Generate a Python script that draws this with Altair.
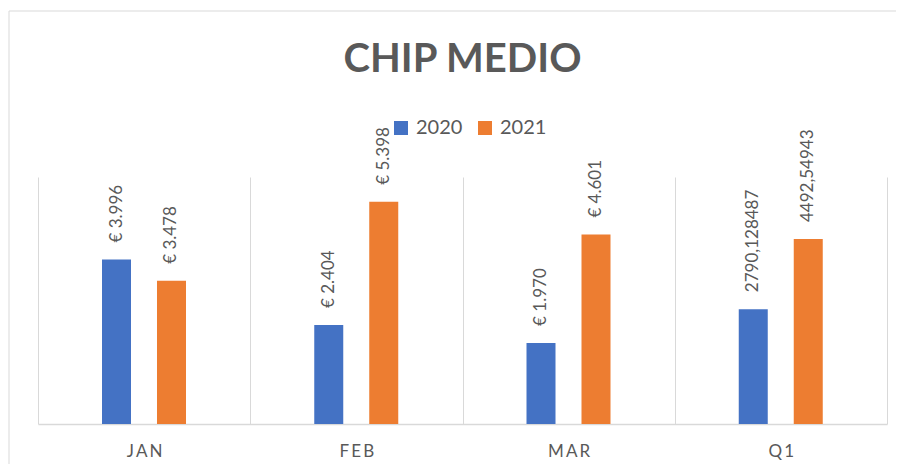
import altair as alt
import pandas as pd

months = ["JAN", "FEB", "MAR", "Q1"]
years = ["2020", "2021"]
v2020 = [3996, 2404, 1970, 2790.128487]
v2021 = [3478, 5398, 4601, 4492.54943]
labels2020 = ["€ 3.996", "€ 2.404", "€ 1.970", "2790,128487"]
labels2021 = ["€ 3.478", "€ 5.398", "€ 4.601", "4492,54943"]
title_text = "CHIP MEDIO"
colors = ["#4472C4", "#ED7D31"]

rows = []
for m, a, b, la, lb in zip(months, v2020, v2021, labels2020, labels2021):
    rows.append({"month": m, "year": "2020", "value": a, "label": la})
    rows.append({"month": m, "year": "2021", "value": b, "label": lb})
df = pd.DataFrame(rows)

W, H = 849, 247
FONT = "Lato"
GRAY = "#595959"

x_enc = alt.X(
    "month:N",
    sort=months,
    scale=alt.Scale(paddingInner=0, paddingOuter=0),
    axis=alt.Axis(
        title=None, tickBand="extent", grid=True, gridColor="#d9d9d9", gridWidth=1,
        domainColor="#d9d9d9", domainWidth=1.5, ticks=False, labelAngle=0,
        labelFont=FONT, labelFontSize=17, labelColor=GRAY, labelPadding=19,
        labelExpr="join(split(datum.label, ''), '\u2009')",
    ),
)
xoff = alt.XOffset("year:N", sort=years,
                   scale=alt.Scale(range=[64, 148], paddingInner=0.4727, paddingOuter=0))
y_enc = alt.Y("value:Q", scale=alt.Scale(domain=[0, 6000]), axis=None)

base = alt.Chart(df)

bars = base.mark_bar().encode(
    x=x_enc, xOffset=xoff, y=y_enc,
    color=alt.Color(
        "year:N",
        scale=alt.Scale(domain=years, range=colors),
        legend=alt.Legend(
            title=None, orient="none", legendX=353, legendY=-59,
            direction="horizontal", symbolType="square", symbolSize=196,
            symbolStrokeWidth=0, labelFont=FONT, labelFontSize=20,
            labelColor=GRAY, columnPadding=12, labelOffset=5, padding=0,
        ),
    ),
)

texts = base.mark_text(
    angle=270, align="left", baseline="middle", dx=17,
    font=FONT, fontSize=17, color=GRAY,
).encode(x=x_enc, xOffset=xoff, y=y_enc, text="label:N")

frame = alt.Chart(pd.DataFrame({"k": [0]})).mark_rect(
    fill=None, stroke="#d9d9d9", strokeWidth=1
).encode(
    x=alt.value(-29), x2=alt.value(W + 40),
    y=alt.value(-166), y2=alt.value(H + 60),
)

title = alt.Chart(pd.DataFrame({"t": [title_text]})).mark_text(
    font=FONT, fontSize=40, fontWeight="bold", color=GRAY,
    align="center", baseline="alphabetic",
).encode(x=alt.value(W / 2), y=alt.value(-105), text="t:N")

chart = alt.layer(frame, bars, texts, title).properties(
    width=W, height=H,
    padding={"left": 30, "top": 169, "right": 9, "bottom": 40},
    autosize=alt.AutoSizeParams(type="none"),
    background="white",
).configure_view(stroke=None)

chart.save("out.html", embed_options={"renderer": "svg", "actions": False})
